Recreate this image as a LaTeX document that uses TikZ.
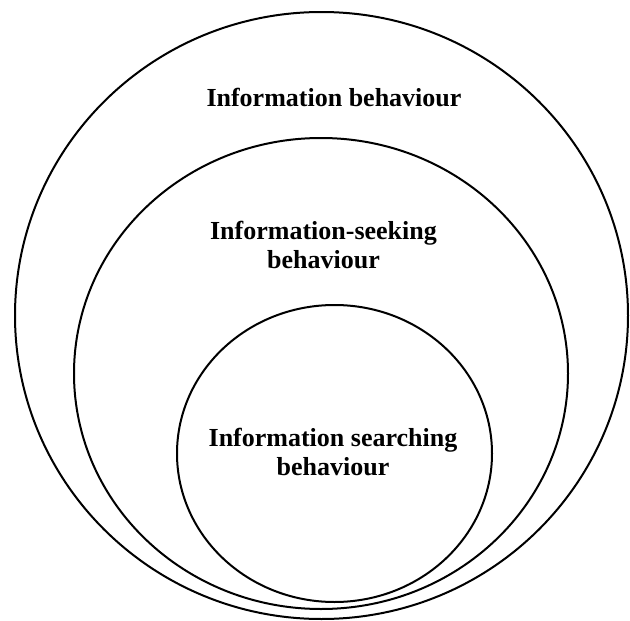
\documentclass[tikz,border=0pt]{standalone}
\usepackage{fontspec}
\setmainfont{Liberation Serif}
\usetikzlibrary{shapes.geometric}
\begin{document}
\begin{tikzpicture}[x=1pt,y=-1pt,
  ring/.style={draw=black,line width=2pt,shape=ellipse,inner sep=0pt},
  label/.style={font=\fontsize{26}{29}\selectfont\bfseries,align=center,inner sep=0pt}]
\useasboundingbox (0,0) rectangle (630,621);
\node[ring,minimum width=613pt,minimum height=607pt] (outer) at (321.5,315.5) {};
\node[ring,minimum width=494pt,minimum height=471pt] (middle) at (321,373.5) {};
\node[ring,minimum width=315pt,minimum height=297pt] (inner) at (334.5,453.5) {};
\node[label,anchor=base] (tb) at (334,106) {Information behaviour};
\node[label,anchor=base] (ts) at (323.5,268) {Information-seeking\\behaviour};
\node[label,anchor=base] (tr) at (333,475) {Information searching\\behaviour};
\end{tikzpicture}
\end{document}
